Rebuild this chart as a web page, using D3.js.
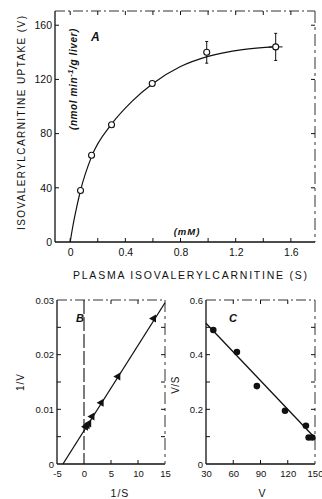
<!DOCTYPE html>
<html><head><meta charset="utf-8">
<script src="https://cdn.jsdelivr.net/npm/d3@7"></script>
<style>
html,body{margin:0;padding:0;background:#fff;}
svg{display:block;}
text{font-family:"Liberation Sans",Arial,sans-serif;fill:#111;}
</style></head>
<body>
<script>
// ---- Panel A data: uptake vs plasma concentration ----
const aS    = [0.075, 0.155, 0.30, 0.595, 0.99, 1.49];
const aV    = [38, 64, 86.5, 117, 140, 144];
const aVErr = [0, 0, 0, 0, 8, 10];
const aSErr = [0, 0, 0, 0, 0, 0.05];
const aCurveS = [0, 0.02, 0.05, 0.075, 0.155, 0.30, 0.45, 0.60, 0.80, 1.00, 1.25, 1.49];
const aCurveV = [0, 12, 27, 38, 63, 87, 104, 117, 129.5, 137, 142, 144];
const aXTicks = [0, 0.4, 0.8, 1.2, 1.6];
const aYTicks = [0, 40, 80, 120, 160];

// ---- Panel B data: Lineweaver-Burk ----
const bInvS = [12.9, 6.3, 3.2, 1.5, 0.9, 0.6, 0.3];
const bInvV = [0.0266, 0.0160, 0.0112, 0.0087, 0.0074, 0.0071, 0.0068];
const bLineX = [-3.9, 15];
const bLineY = [0, 0.0295];
const bXTicks = [-5, 0, 5, 10, 15];
const bYTicks = [0, 0.01, 0.02, 0.03];

// ---- Panel C data: Eadie-Hofstee ----
const cV  = [38, 64, 86, 117, 140, 143, 147];
const cVS = [0.49, 0.41, 0.285, 0.195, 0.14, 0.097, 0.097];
const cLineX = [30, 150];
const cLineY = [0.515, 0.095];
const cXTicks = [30, 60, 90, 120, 150];
const cYTicks = [0, 0.2, 0.4, 0.6];

const W = 322, H = 499;
const svg = d3.select("body").append("svg").attr("width", W).attr("height", H);

function frame(g, x0, x1, y0, y1) {
  g.append("line").attr("x1", x0).attr("x2", x0).attr("y1", y0).attr("y2", y1)
    .attr("stroke", "#111").attr("stroke-width", 1.3);
  g.append("line").attr("x1", x0).attr("x2", x1).attr("y1", y1).attr("y2", y1)
    .attr("stroke", "#111").attr("stroke-width", 1.3);
  g.append("line").attr("x1", x0).attr("x2", x1).attr("y1", y0).attr("y2", y0)
    .attr("stroke", "#333").attr("stroke-width", 1).attr("stroke-dasharray", "10,3,2,3");
  g.append("line").attr("x1", x1).attr("x2", x1).attr("y1", y0).attr("y2", y1)
    .attr("stroke", "#333").attr("stroke-width", 1).attr("stroke-dasharray", "12,4,3,4");
}

function axes(g, x, y, xt, yt, xMinor, yMinor, xf, yf, fs, xLabY) {
  const [x0, x1] = x.range();
  const [y1, y0] = y.range();
  const bx = g.append("g").attr("transform", `translate(0,${y1})`)
    .call(d3.axisBottom(x).tickValues(xt).tickSize(0).tickPadding(xLabY).tickFormat(xf));
  bx.select(".domain").remove();
  bx.selectAll("text").attr("font-size", fs);
  const ly = g.append("g").attr("transform", `translate(${x0},0)`)
    .call(d3.axisLeft(y).tickValues(yt).tickSize(0).tickPadding(3).tickFormat(yf));
  ly.select(".domain").remove();
  ly.selectAll("text").attr("font-size", fs);
  const tk = g.append("g").attr("stroke", "#111").attr("stroke-width", 1);
  xMinor.forEach(v => {
    tk.append("line").attr("x1", x(v)).attr("x2", x(v)).attr("y1", y1).attr("y2", y1 - 4);
    tk.append("line").attr("x1", x(v)).attr("x2", x(v)).attr("y1", y0).attr("y2", y0 + 4);
  });
  yMinor.forEach(v => {
    tk.append("line").attr("x1", x0).attr("x2", x0 + 4).attr("y1", y(v)).attr("y2", y(v));
    tk.append("line").attr("x1", x1).attr("x2", x1 - 4).attr("y1", y(v)).attr("y2", y(v));
  });
}

// ================= Panel A =================
const gA = svg.append("g");
const xA = d3.scaleLinear().domain([-0.11, 1.775]).range([55, 315]);
const yA = d3.scaleLinear().domain([0, 170.5]).range([242, 11]);
frame(gA, 55, 315, 11, 242);
axes(gA, xA, yA, aXTicks, aYTicks,
  [0, 0.2, 0.4, 0.6, 0.8, 1.0, 1.2, 1.4, 1.6], [40, 80, 120, 160],
  d3.format("~g"), d3.format("~g"), 10.5, 7);

gA.append("path")
  .datum(aCurveS.map((s, i) => [s, aCurveV[i]]))
  .attr("fill", "none").attr("stroke", "#111").attr("stroke-width", 1.2)
  .attr("d", d3.line().x(d => xA(d[0])).y(d => yA(d[1])).curve(d3.curveMonotoneX));

const eb = gA.append("g").attr("stroke", "#111").attr("stroke-width", 1);
aS.forEach((s, i) => {
  if (aVErr[i] > 0) {
    eb.append("line").attr("x1", xA(s)).attr("x2", xA(s))
      .attr("y1", yA(aV[i] - aVErr[i])).attr("y2", yA(aV[i] + aVErr[i]));
    [aV[i] - aVErr[i], aV[i] + aVErr[i]].forEach(v =>
      eb.append("line").attr("x1", xA(s) - 1.5).attr("x2", xA(s) + 1.5)
        .attr("y1", yA(v)).attr("y2", yA(v)));
  }
  if (aSErr[i] > 0) {
    eb.append("line").attr("x1", xA(s - aSErr[i])).attr("x2", xA(s + aSErr[i]))
      .attr("y1", yA(aV[i])).attr("y2", yA(aV[i]));
  }
});
gA.append("g").selectAll("circle").data(aS).join("circle")
  .attr("cx", d => xA(d)).attr("cy", (d, i) => yA(aV[i])).attr("r", 3)
  .attr("fill", "#fff").attr("stroke", "#111").attr("stroke-width", 1.1);

gA.append("text").attr("x", 91).attr("y", 41).attr("font-size", 12)
  .attr("font-style", "italic").attr("font-weight", "bold").text("A");
gA.append("text").attr("x", 187).attr("y", 235).attr("font-size", 9.5)
  .attr("text-anchor", "middle").attr("font-style", "italic").attr("font-weight", "bold")
  .attr("letter-spacing", 1).text("(mM)");
gA.append("text").attr("transform", "translate(25,123) rotate(-90)")
  .attr("text-anchor", "middle").attr("font-size", 10)
  .attr("textLength", 214).attr("lengthAdjust", "spacing")
  .text("ISOVALERYLCARNITINE  UPTAKE  (V)");
const unitT = gA.append("text").attr("transform", "translate(77,79) rotate(-90)")
  .attr("text-anchor", "middle").attr("font-size", 10)
  .attr("font-style", "italic").attr("font-weight", "bold").attr("letter-spacing", 0.6);
unitT.append("tspan").text("(nmol min");
unitT.append("tspan").attr("dy", -4).attr("font-size", 7.5).text("-1");
unitT.append("tspan").attr("dy", 4).text("/g liver)");
svg.append("text").attr("x", 190).attr("y", 279).attr("text-anchor", "middle")
  .attr("font-size", 10.5).attr("textLength", 234).attr("lengthAdjust", "spacing")
  .text("PLASMA  ISOVALERYLCARNITINE  (S)");

// ================= Panel B =================
const gB = svg.append("g");
const xB = d3.scaleLinear().domain([-5, 15]).range([57, 165]);
const yB = d3.scaleLinear().domain([0, 0.03]).range([464, 300]);
frame(gB, 57, 165, 300, 464);
axes(gB, xB, yB, bXTicks, bYTicks, [5, 10], [0.005, 0.01, 0.015, 0.02, 0.025],
  d => d < 0 ? "-" + Math.abs(d) : String(d), d3.format("~g"), 9.5, 6);
gB.append("line").attr("x1", xB(0)).attr("x2", xB(0)).attr("y1", 300).attr("y2", 464)
  .attr("stroke", "#111").attr("stroke-width", 1.1).attr("stroke-dasharray", "14,3");
gB.append("line").attr("x1", xB(bLineX[0])).attr("x2", xB(bLineX[1]))
  .attr("y1", yB(bLineY[0])).attr("y2", yB(bLineY[1]))
  .attr("stroke", "#111").attr("stroke-width", 1.3);
gB.append("g").selectAll("path").data(bInvS).join("path")
  .attr("transform", (d, i) => `translate(${xB(d)},${yB(bInvV[i])}) rotate(30)`)
  .attr("d", d3.symbol(d3.symbolTriangle, 28)).attr("fill", "#111");
gB.append("text").attr("x", 76).attr("y", 322).attr("font-size", 11)
  .attr("font-style", "italic").attr("font-weight", "bold").text("B");
gB.append("text").attr("transform", "translate(24,382) rotate(-90)")
  .attr("text-anchor", "middle").attr("font-size", 10).attr("letter-spacing", 1).text("1/V");
gB.append("text").attr("x", 120).attr("y", 497).attr("text-anchor", "middle")
  .attr("font-size", 10.5).attr("letter-spacing", 1).text("1/S");

// ================= Panel C =================
const gC = svg.append("g");
const xC = d3.scaleLinear().domain([30, 150]).range([206, 315]);
const yC = d3.scaleLinear().domain([0, 0.6]).range([464, 300]);
frame(gC, 206, 315, 300, 464);
axes(gC, xC, yC, cXTicks, cYTicks, [60, 90, 120], [0.1, 0.2, 0.3, 0.4, 0.5],
  d3.format("~g"), d3.format("~g"), 9.5, 6);
gC.append("line").attr("x1", xC(cLineX[0])).attr("x2", xC(cLineX[1]))
  .attr("y1", yC(cLineY[0])).attr("y2", yC(cLineY[1]))
  .attr("stroke", "#111").attr("stroke-width", 1.3);
gC.append("g").selectAll("circle").data(cV).join("circle")
  .attr("cx", d => xC(d)).attr("cy", (d, i) => yC(cVS[i])).attr("r", 3.3).attr("fill", "#111");
gC.append("text").attr("x", 229).attr("y", 322).attr("font-size", 11)
  .attr("font-style", "italic").attr("font-weight", "bold").text("C");
gC.append("text").attr("transform", "translate(179,385) rotate(-90)")
  .attr("text-anchor", "middle").attr("font-size", 10).attr("letter-spacing", 0.5).text("V/S");
gC.append("text").attr("x", 262).attr("y", 497).attr("text-anchor", "middle")
  .attr("font-size", 10.5).text("V");
</script>
</body></html>
